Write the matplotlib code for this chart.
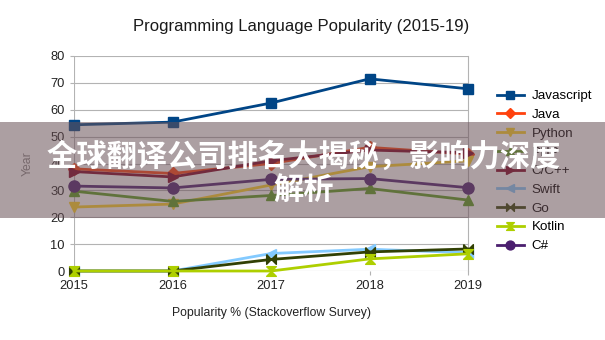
import numpy as np
import matplotlib
matplotlib.use('Agg')
import matplotlib.pyplot as plt
from matplotlib.path import Path
from matplotlib.patches import Rectangle

## -----------------------------------------------------------------------------
## data

years = [2015, 2016, 2017, 2018, 2019]
languages = ['Javascript', 'Java', 'Python', 'PHP', 'C/C++',
             'Swift', 'Go', 'Kotlin', 'C#']

javascript = [54.4, 55.4, 62.5, 71.5, 67.8]
java = [38.0, 36.3, 40.0, 46.0, 43.5]
python = [23.8, 24.9, 32.0, 38.8, 41.0]
php = [29.7, 25.9, 28.1, 30.7, 26.4]
cpp = [37.0, 35.0, 41.0, 45.0, 44.0]
swift = [0.0, 0.0, 6.5, 8.1, 6.8]
go = [0.0, 0.0, 4.3, 7.1, 8.2]
kotlin = [0.0, 0.0, 0.0, 4.5, 6.4]
csharp = [31.6, 30.9, 34.1, 34.4, 31.0]

series = [javascript, java, python, php, cpp, swift, go, kotlin, csharp]

yticks = [0, 10, 20, 30, 40, 50, 60, 70, 80]

title = 'Programming Language Popularity (2015-19)'
xlabel = 'Popularity % (Stackoverflow Survey)'
ylabel = 'Year'
banner = '全球翻译公司排名大揭秘，影响力深度\n解析'

## -----------------------------------------------------------------------------
## style

colors = ['#004586', '#ff420e', '#ffd320', '#579d1c', '#7e0021',
          '#83caff', '#314004', '#aecf00', '#4b1f6f']

bowtie = Path([(-1, 1), (-1, -1), (1, 1), (1, -1), (-1, 1)])
hourglass = Path([(-1, 1), (1, 1), (-1, -1), (1, -1), (-1, 1)])
markers = ['s', 'D', 'v', '^', '>', '<', bowtie, hourglass, 'o']
msizes = [7, 6, 7, 7, 7, 7, 7, 7, 8]

plt.rcParams['font.family'] = ['Liberation Sans', 'DejaVu Sans']

fig = plt.figure(figsize=(6.05, 3.4), dpi=100)
ax = fig.add_axes([74/605, 1-271/340, (468-74)/605, (271-56)/340])

for vals, name, c, m, ms in zip(series, languages, colors, markers, msizes):
    ax.plot(years, vals, color=c, lw=2, marker=m, ms=ms,
            markeredgecolor=c, label=name, clip_on=False, zorder=3)

ax.set_xlim(2015, 2019)
ax.set_ylim(0, 80)
ax.set_xticks(years)
ax.set_yticks(yticks)
ax.grid(axis='y', color='#b3b3b3', lw=0.8)
ax.set_axisbelow(True)
for s in ['top', 'left', 'bottom']:
    ax.spines[s].set_visible(False)
ax.spines['right'].set_color('#b3b3b3')
ax.axvline(2015, color='#b3b3b3', lw=0.8, zorder=0)
ax.tick_params(axis='both', labelsize=9.3, length=3, color='#b3b3b3',
               labelcolor='#222222')

ax.set_xlabel(xlabel, fontsize=8.8, color='#222222', labelpad=11)
ax.set_ylabel(ylabel, fontsize=8.8, color='#888888', labelpad=12)
fig.text(301/605, 1-26/340, title, ha='center', va='center',
         fontsize=12, color='#1a1a1a')

fig.legend(loc='upper left', bbox_to_anchor=(497/605, 1-90/340),
           frameon=False, fontsize=9.6, borderpad=0, borderaxespad=0,
           handlelength=2.0, handletextpad=0.6, labelspacing=0.48,
           markerscale=0.8)

## -----------------------------------------------------------------------------
## banner overlay

fig.patches.append(Rectangle((0, 1-218/340), 1, 96/340, transform=fig.transFigure,
                             facecolor='#695056', alpha=0.55, zorder=10,
                             edgecolor='none'))
fig.text(304/605, 1-173/340, banner, ha='center', va='center',
         fontsize=21.8, fontweight='bold', color='white', linespacing=1.05,
         family=['Noto Sans CJK SC', 'DejaVu Sans'], zorder=11)

fig.savefig('out.png', dpi=100)
